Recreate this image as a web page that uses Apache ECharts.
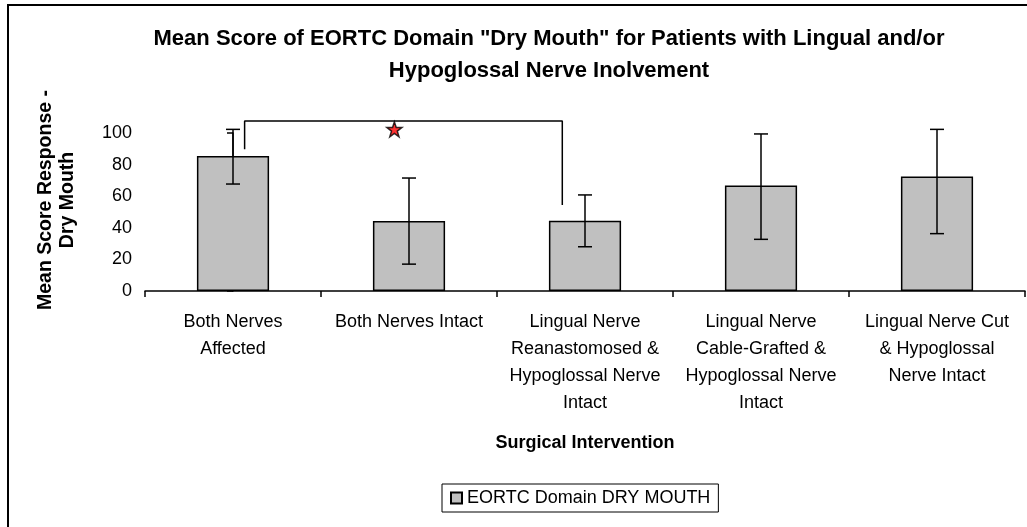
<!DOCTYPE html>
<html>
<head>
<meta charset="utf-8">
<script src="https://cdn.jsdelivr.net/npm/echarts@6/dist/echarts.min.js"></script>
<style>
  html, body { margin: 0; padding: 0; background: #fff; }
  #chart { width: 1027px; height: 527px; }
</style>
</head>
<body>
<div id="chart"></div>
<script>
const categories = [
  'Both Nerves\nAffected',
  'Both Nerves Intact',
  'Lingual Nerve\nReanastomosed &\nHypoglossal Nerve\nIntact',
  'Lingual Nerve\nCable-Grafted &\nHypoglossal Nerve\nIntact',
  'Lingual Nerve Cut\n& Hypoglossal\nNerve Intact'
]
const meanScores = [85.4, 44.3, 44.5, 66.7, 72.4]
const errorLow = [67.7, 17, 28, 32.7, 36.3]
const errorHigh = [102.3, 71.5, 60.8, 99.4, 102.3]

// significance bracket between bar 1 and bar 3 (x in category units)
const bracketPoints = [[0.066, 89.7], [0.066, 107.6], [1.871, 107.6], [1.871, 54.4]]
const starPoint = [[0.917, 102.3]]

const font = 'Liberation Sans, Arial, sans-serif'
const chart = echarts.init(document.getElementById('chart'))

const option = {
  backgroundColor: '#fff',
  animation: false,
  textStyle: { fontFamily: font, color: '#000' },
  title: {
    text: 'Mean Score of EORTC Domain "Dry Mouth" for Patients with Lingual and/or\nHypoglossal Nerve Inolvement',
    left: 544,
    top: 18,
    textAlign: 'center',
    textStyle: { fontSize: 22, fontWeight: 'bold', color: '#000', lineHeight: 32, fontFamily: font }
  },
  graphic: [{
    type: 'rect',
    shape: { x: 8, y: 5, width: 1100, height: 600 },
    style: { fill: 'none', stroke: '#000', lineWidth: 2 },
    silent: true
  }],
  legend: {
    data: ['EORTC Domain DRY MOUTH'],
    left: 442,
    top: 484,
    padding: [5, 8, 5, 8],
    icon: 'rect',
    itemWidth: 11,
    itemHeight: 11,
    itemGap: 6,
    borderColor: '#000',
    borderWidth: 1,
    borderRadius: 0,
    textStyle: { fontSize: 18, color: '#000', fontFamily: font }
  },
  grid: { left: 145, right: 2, top: 133, bottom: 236, containLabel: false },
  xAxis: [{
    type: 'category',
    data: categories,
    name: 'Surgical Intervention',
    nameLocation: 'middle',
    nameGap: 143,
    nameTextStyle: { fontSize: 18, fontWeight: 'bold', color: '#000' },
    axisLine: { lineStyle: { color: '#000', width: 1.5 } },
    axisTick: { show: true, length: 6, interval: 0, lineStyle: { color: '#000', width: 1.5 } },
    axisLabel: { interval: 0, fontSize: 18, lineHeight: 27, margin: 18, color: '#000', align: 'center' }
  }, {
    type: 'value',
    min: -0.5,
    max: 4.5,
    show: false
  }],
  yAxis: {
    type: 'value',
    min: 0,
    max: 100,
    interval: 20,
    name: 'Mean Score Response -\nDry Mouth',
    nameLocation: 'middle',
    nameGap: 66,
    nameRotate: 90,
    nameTextStyle: { fontSize: 19.5, fontWeight: 'bold', color: '#000', lineHeight: 22, padding: [0, 0, 0, 24] },
    axisLine: { show: true, lineStyle: { color: '#000', width: 1.5 } },
    axisTick: { show: true, length: 6, lineStyle: { color: '#000', width: 1.5 } },
    axisLabel: { fontSize: 18, margin: 13, color: '#000' },
    splitLine: { show: false }
  },
  series: [{
    name: 'EORTC Domain DRY MOUTH',
    type: 'bar',
    data: meanScores,
    barWidth: '41%',
    itemStyle: { color: '#C0C0C0', borderColor: '#000', borderWidth: 1.5 }
  }, {
    type: 'custom',
    name: 'error',
    clip: false,
    data: categories.map((c, i) => [i, errorLow[i], errorHigh[i]]),
    renderItem: (params, api) => {
      const top = api.coord([api.value(0), api.value(2)])
      const bot = api.coord([api.value(0), api.value(1)])
      const cap = 7
      const st = { stroke: '#000', lineWidth: 1.5 }
      return {
        type: 'group',
        children: [
          { type: 'line', shape: { x1: top[0], y1: top[1], x2: bot[0], y2: bot[1] }, style: st },
          { type: 'line', shape: { x1: top[0] - cap, y1: top[1], x2: top[0] + cap, y2: top[1] }, style: st },
          { type: 'line', shape: { x1: bot[0] - cap, y1: bot[1], x2: bot[0] + cap, y2: bot[1] }, style: st }
        ]
      }
    },
    z: 5
  }, {
    type: 'line',
    name: 'bracket',
    xAxisIndex: 1,
    data: bracketPoints,
    clip: false,
    symbol: 'none',
    lineStyle: { color: '#000', width: 1.5 },
    z: 6
  }, {
    type: 'scatter',
    name: 'star',
    xAxisIndex: 1,
    data: starPoint,
    clip: false,
    symbol: 'path://M50,0 L61.8,35.1 L98.1,35.1 L68.8,56.8 L79.4,91.9 L50,70.2 L20.6,91.9 L31.2,56.8 L1.9,35.1 L38.2,35.1 Z',
    symbolSize: 15,
    itemStyle: { color: '#FF0000', borderColor: '#000', borderWidth: 1.5 },
    z: 7
  }]
}

chart.setOption(option)
</script>
</body>
</html>
